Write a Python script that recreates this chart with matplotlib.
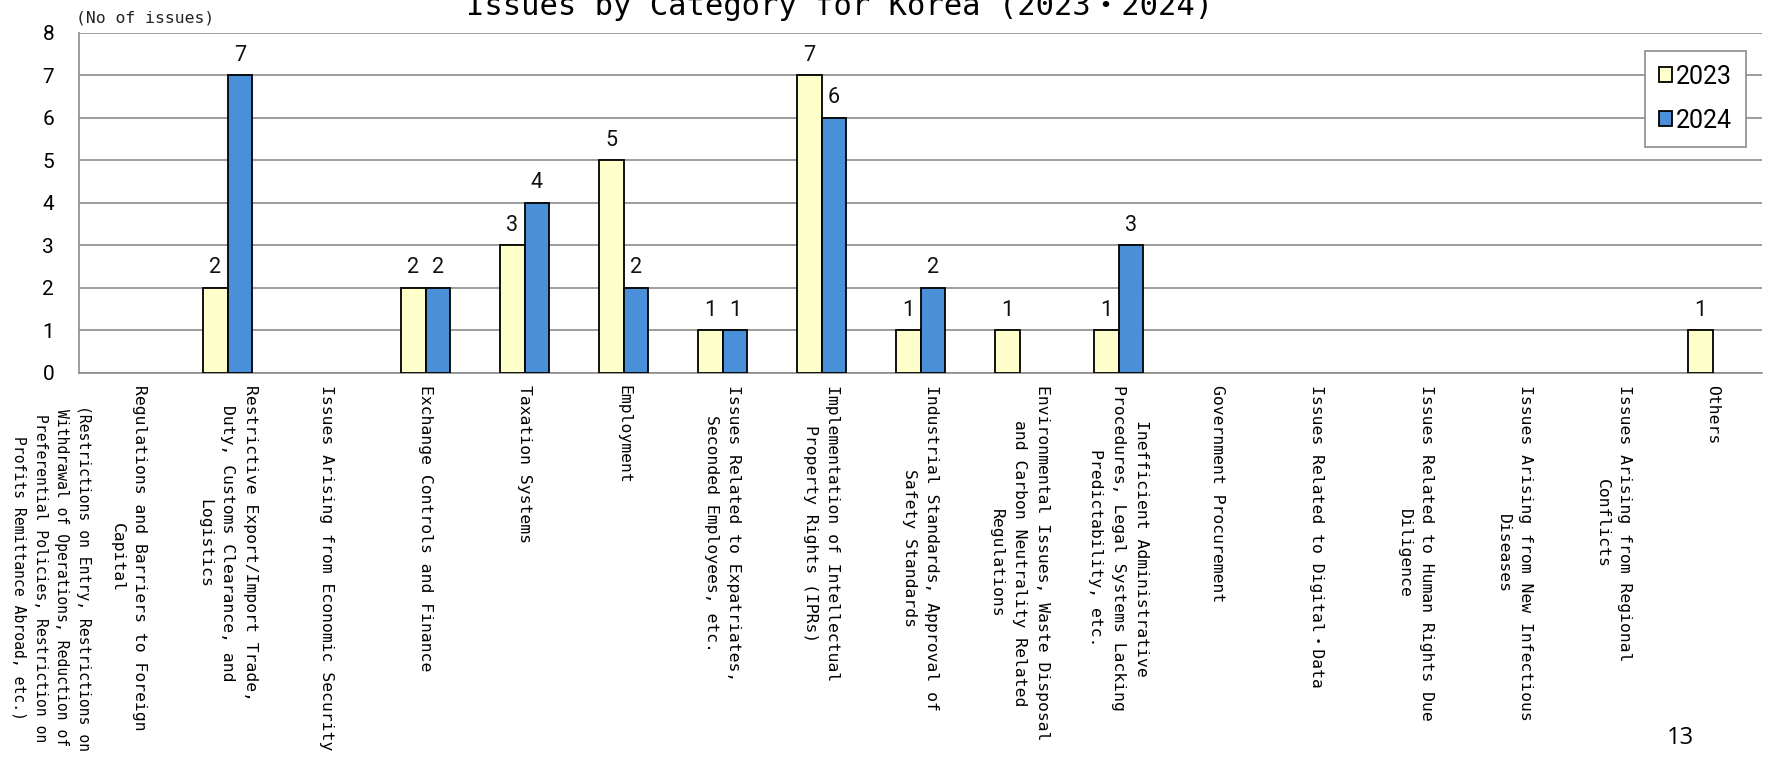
import matplotlib
matplotlib.use("Agg")
import matplotlib.pyplot as plt
import numpy as np

# issue counts per category, two survey years
categories = [
    "Regulations and Barriers to Foreign\nCapital",
    "Restrictive Export/Import Trade,\nDuty, Customs Clearance, and\nLogistics",
    "Issues Arising from Economic Security",
    "Exchange Controls and Finance",
    "Taxation Systems",
    "Employment",
    "Issues Related to Expatriates,\nSeconded Employees, etc.",
    "Implementation of Intellectual\nProperty Rights (IPRs)",
    "Industrial Standards, Approval of\nSafety Standards",
    "Environmental Issues, Waste Disposal\nand Carbon Neutrality Related\nRegulations",
    "Inefficient Administrative\nProcedures, Legal Systems Lacking\nPredictability, etc.",
    "Government Procurement",
    "Issues Related to Digital・Data",
    "Issues Related to Human Rights Due\nDiligence",
    "Issues Arising from New Infectious\nDiseases",
    "Issues Arising from Regional\nConflicts",
    "Others",
]
years = ["2023", "2024"]
issues_2023 = [0, 2, 0, 2, 3, 5, 1, 7, 1, 1, 1, 0, 0, 0, 0, 0, 1]
issues_2024 = [0, 7, 0, 2, 4, 2, 1, 6, 2, 0, 3, 0, 0, 0, 0, 0, 0]
y_ticks = [0, 1, 2, 3, 4, 5, 6, 7, 8]

mono = ["DejaVu Sans Mono", "Noto Sans CJK JP"]
num_font = ["Liberation Sans Narrow", "Roboto", "DejaVu Sans"]
c23 = "#FFFFCC"
c24 = "#4A90D9"
grid_c = "#8C8C8C"

W, H = 1769, 758
fig = plt.figure(figsize=(W / 100, H / 100), dpi=100)
ax = fig.add_axes([79 / W, 1 - 372.7 / H, (1762 - 79) / W, (372.7 - 33) / H])

x = np.arange(len(categories))
bw = 0.25
b1 = ax.bar(x - bw / 2, issues_2023, bw, color=c23, edgecolor="black",
            linewidth=1.3, label=years[0], zorder=3)
b2 = ax.bar(x + bw / 2, issues_2024, bw, color=c24, edgecolor="black",
            linewidth=1.3, label=years[1], zorder=3)

# legend first, so its swatches keep the black outline
leg = ax.legend(loc="upper right", bbox_to_anchor=(1746 / W, 1 - 51 / H),
                bbox_transform=fig.transFigure, borderaxespad=0,
                prop={"family": num_font, "size": 18},
                handlelength=0.55, handleheight=0.55, handletextpad=0.15,
                labelspacing=0.8, borderpad=0.55, fancybox=False,
                framealpha=1, edgecolor=grid_c)
leg.get_frame().set_linewidth(1.2)

# value labels only on non-empty bars; empty bars get no outline
for bars, vals in ((b1, issues_2023), (b2, issues_2024)):
    for rect, v in zip(bars, vals):
        if v > 0:
            ax.annotate(str(v), (rect.get_x() + rect.get_width() / 2, v),
                        xytext=(0, 7), textcoords="offset points",
                        ha="center", va="bottom", fontsize=15.5,
                        family=num_font, color="#111111")
        else:
            rect.set_linewidth(0)

ax.set_xlim(-0.5, len(categories) - 0.5)
ax.set_ylim(0, 8)
ax.set_yticks(y_ticks)
ax.set_yticklabels([str(t) for t in y_ticks], family=num_font, fontsize=15)
ax.yaxis.grid(True, color=grid_c, linewidth=1.2, zorder=0)
ax.set_axisbelow(True)
for s in ("top", "right"):
    ax.spines[s].set_visible(False)
for s in ("left", "bottom"):
    ax.spines[s].set_color(grid_c)
    ax.spines[s].set_linewidth(1.2)
ax.tick_params(axis="both", length=0)
ax.tick_params(axis="y", pad=18)

ax.set_xticks(x)
ax.set_xticklabels(categories, rotation=-90, ha="center", va="top",
                   multialignment="center", family=mono, fontsize=11.8,
                   linespacing=1.65)
ax.tick_params(axis="x", pad=9)

# note under the first category
fig.text(51 / W, 1 - 405 / H,
         "(Restrictions on Entry, Restrictions on\n"
         "Withdrawal of Operations, Reduction of\n"
         "Preferential Policies, Restriction on\n"
         "Profits Remittance Abroad, etc.)",
         rotation=-90, ha="center", va="top", multialignment="center",
         family=mono, fontsize=10.6, linespacing=1.55)

fig.text(76 / W, 1 - 18 / H, "(No of issues)", ha="left", va="center",
         family=mono, fontsize=11.8, color="#222222")

fig.text(840 / W, 1 - 15 / H, "Issues by Category for Korea (2023・2024)",
         ha="center", va="baseline", family=mono, fontsize=22)

fig.text(1680 / W, 1 - 738 / H, "13", ha="center", va="center",
         family=["Open Sans", "DejaVu Sans"], fontsize=17)

fig.savefig("out.png", dpi=100)
